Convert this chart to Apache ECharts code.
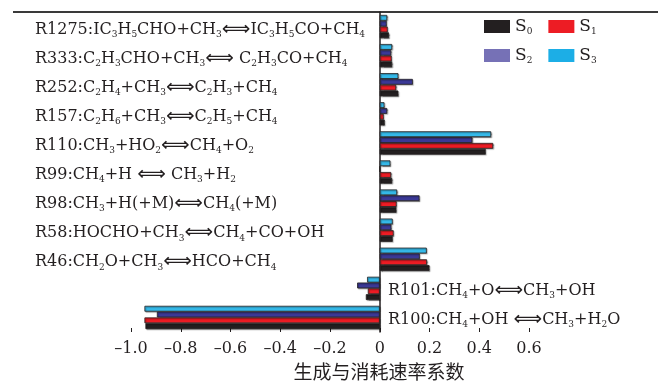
<!DOCTYPE html>
<html>
<head>
<meta charset="utf-8">
<script src="https://cdn.jsdelivr.net/npm/echarts@6/dist/echarts.min.js"></script>
<style>
  html, body { margin: 0; padding: 0; background: #fff; }
  #chart { width: 659px; height: 385px; }
</style>
</head>
<body>
<div id="chart"></div>
<script>
// Reactions, top to bottom; "_n" marks a subscript digit.
const categories = [
  'R1275:IC_3H_5CHO+CH_3⟺IC_3H_5CO+CH_4',
  'R333:C_2H_3CHO+CH_3⟺ C_2H_3CO+CH_4',
  'R252:C_2H_4+CH_3⟺C_2H_3+CH_4',
  'R157:C_2H_6+CH_3⟺C_2H_5+CH_4',
  'R110:CH_3+HO_2⟺CH_4+O_2',
  'R99:CH_4+H ⟺ CH_3+H_2',
  'R98:CH_3+H(+M)⟺CH_4(+M)',
  'R58:HOCHO+CH_3⟺CH_4+CO+OH',
  'R46:CH_2O+CH_3⟺HCO+CH_4',
  'R101:CH_4+O⟺CH_3+OH',
  'R100:CH_4+OH ⟺CH_3+H_2O'
];

// Rate coefficients for the four cases
const S0 = [0.037, 0.050, 0.075, 0.020, 0.426, 0.050, 0.067, 0.052, 0.200, -0.056, -0.942];
const S1 = [0.032, 0.048, 0.066, 0.016, 0.456, 0.046, 0.068, 0.056, 0.190, -0.048, -0.946];
const S2 = [0.028, 0.046, 0.133, 0.030, 0.372, 0.000, 0.160, 0.047, 0.161, -0.091, -0.896];
const S3 = [0.030, 0.050, 0.075, 0.019, 0.448, 0.043, 0.070, 0.052, 0.189, -0.051, -0.946];

const seriesNames = ['S0', 'S1', 'S2', 'S3'];
const xTicks = { min: -1.0, max: 0.6, step: 0.2 };
const axisTitle = '生成与消耗速率系数';

const ink = '#231f20';
const barColors = { S0: '#231f20', S1: '#ed1c24', S2: '#3b3996', S3: '#35b9e9' };
const legendColors = { S0: '#231f20', S1: '#ed1c24', S2: '#7671b6', S3: '#1caee6' };

// Turn "CH_4⟺..." into rich-text tokens with subscripts
function toRich(str) {
  let out = '';
  let buf = '';
  const flush = () => { if (buf) { out += '{t|' + buf + '}'; buf = ''; } };
  for (let i = 0; i < str.length; i++) {
    const c = str[i];
    if (c === '_' && i + 1 < str.length) {
      flush();
      out += '{s|' + str[i + 1] + '}';
      i++;
    } else if (c === '⟺') {
      flush();
      out += '{a|⟺}';
    } else {
      buf += c;
    }
  }
  flush();
  return out;
}

const richStyles = {
  t: { fontFamily: 'DejaVu Serif', fontSize: 16, color: ink, lineHeight: 19 },
  s: { fontFamily: 'DejaVu Serif', fontSize: 9, color: ink, lineHeight: 9, verticalAlign: 'bottom' },
  a: { fontFamily: 'DejaVu Sans', fontSize: 20, color: ink, lineHeight: 19 }
};

const dataSets = { S0, S1, S2, S3 };
// Negative reactions get their label on the right of the zero line
const isNegative = (idx) => S0[idx] < 0;

const chart = echarts.init(document.getElementById('chart'), null, { renderer: 'canvas' });

// Order inside each group runs S3 (top) .. S0 (bottom)
const barSeries = seriesNames.slice().reverse().map((name) => ({
  name: name,
  type: 'bar',
  yAxisIndex: 0,
  data: dataSets[name],
  barGap: '0%',
  barCategoryGap: '20%',
  itemStyle: {
    color: barColors[name],
    borderColor: ink,
    borderWidth: 0.8,
    shadowColor: 'rgba(0,0,0,0.35)',
    shadowOffsetX: 1,
    shadowOffsetY: 1,
    shadowBlur: 1
  },
  emphasis: { disabled: true },
  animation: false
}));

const legendText = {
  fontFamily: 'DejaVu Serif',
  rich: {
    n: { fontFamily: 'DejaVu Serif', fontSize: 17, color: ink, lineHeight: 20 },
    d: { fontFamily: 'DejaVu Serif', fontSize: 9, color: ink, lineHeight: 9, verticalAlign: 'bottom' }
  }
};
const legendFormatter = (name) => '{n|' + name[0] + '}{d|' + name.slice(1) + '}';
const legendItem = (n) => ({
  name: n,
  itemStyle: { color: legendColors[n], borderWidth: 0, shadowBlur: 0, shadowOffsetX: 0, shadowOffsetY: 0 }
});
const legendBase = {
  left: 484, padding: 0, itemWidth: 26, itemHeight: 13, itemGap: 16,
  icon: 'rect', selectedMode: false,
  formatter: legendFormatter, textStyle: legendText
};

chart.setOption({
  animation: false,
  grid: { left: 131, right: 130, top: 12, bottom: 53, containLabel: false, outerBoundsMode: 'none' },
  legend: [
    Object.assign({ data: seriesNames.slice(0, 2).map(legendItem), top: 18 }, legendBase),
    Object.assign({ data: seriesNames.slice(2, 4).map(legendItem), top: 47 }, legendBase)
  ],
  xAxis: {
    type: 'value',
    min: xTicks.min,
    max: xTicks.max,
    interval: xTicks.step,
    splitLine: { show: false },
    axisLine: { onZero: false, lineStyle: { color: ink, width: 1 } },
    axisTick: { show: true, inside: true, length: 4, lineStyle: { color: ink, width: 1 } },
    axisLabel: {
      margin: 9,
      fontFamily: 'DejaVu Serif',
      fontSize: 16,
      color: ink,
      formatter: (v) => {
        const r = Math.round(v * 10) / 10;
        if (r === 0) return '0';
        return (r < 0 ? '–' : '') + Math.abs(r).toFixed(1);
      }
    },
    name: axisTitle,
    nameLocation: 'middle',
    nameGap: 30,
    nameTextStyle: {
      fontFamily: 'Noto Sans CJK SC',
      fontSize: 19,
      color: ink,
      padding: [0, 0, 0, 98]
    }
  },
  yAxis: [
    {
      // zero line; labels of the positive reactions sit at the far left
      type: 'category',
      inverse: true,
      data: categories,
      axisLine: { onZero: true, lineStyle: { color: ink, width: 1.5 } },
      axisTick: { show: false },
      splitLine: { show: false },
      axisLabel: {
        align: 'left',
        margin: 96,
        interval: 0,
        padding: [6, 0, 0, 0],
        formatter: (v, idx) => (isNegative(idx) ? '' : toRich(v)),
        rich: richStyles
      }
    },
    {
      // labels of the negative reactions, just right of the zero line
      type: 'category',
      inverse: true,
      position: 'right',
      offset: -150,
      data: categories,
      axisLine: { show: false, onZero: false },
      axisTick: { show: false },
      splitLine: { show: false },
      axisLabel: {
        align: 'left',
        margin: 9,
        interval: 0,
        padding: [4, 0, 0, 0],
        formatter: (v, idx) => (isNegative(idx) ? toRich(v) : ''),
        rich: richStyles
      }
    }
  ],
  graphic: [
    {
      type: 'line',
      shape: { x1: 13, y1: 12, x2: 658, y2: 12 },
      style: { stroke: '#3a3a3a', lineWidth: 2 },
      silent: true
    }
  ],
  series: barSeries
});
</script>
</body>
</html>
